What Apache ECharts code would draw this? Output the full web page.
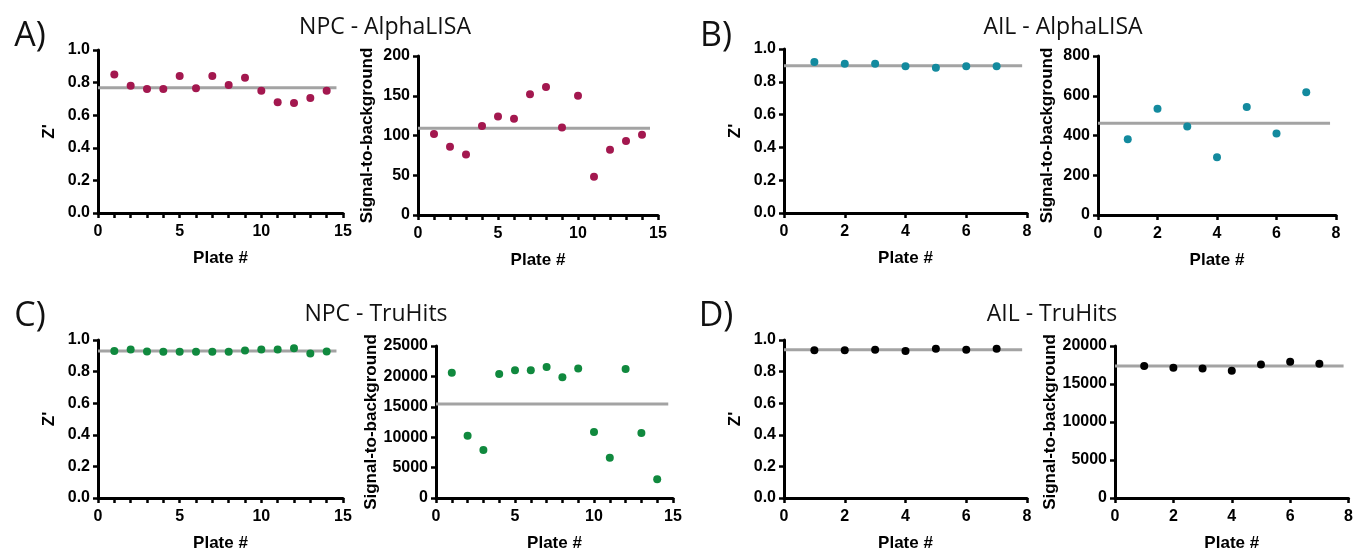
<!DOCTYPE html>
<html>
<head>
<meta charset="utf-8">
<title>Z' and signal-to-background per plate</title>
<script src="https://cdn.jsdelivr.net/npm/echarts@6.0.0/dist/echarts.min.js"></script>
<style>
  html, body { margin: 0; padding: 0; background: #fff; }
  #main { width: 1356px; height: 553px; }
</style>
</head>
<body>
<div id="main"></div>
<script>
// plate numbers
const plates14 = [1, 2, 3, 4, 5, 6, 7, 8, 9, 10, 11, 12, 13, 14];
const plates7 = [1, 2, 3, 4, 5, 6, 7];

// A) NPC - AlphaLISA
const npcAlphaZ = [0.85, 0.78, 0.76, 0.76, 0.84, 0.765, 0.84, 0.785, 0.83, 0.75, 0.68, 0.675, 0.705, 0.75];
const npcAlphaSB = [102, 86, 76, 112, 124, 121, 152, 161, 110, 150, 48, 82, 93, 101];
// B) AIL - AlphaLISA
const ailAlphaZ = [0.92, 0.91, 0.91, 0.895, 0.885, 0.895, 0.895];
const ailAlphaSB = [381, 534, 445, 290, 543, 410, 617];
// C) NPC - TruHits
const npcTruZ = [0.93, 0.94, 0.927, 0.925, 0.925, 0.925, 0.925, 0.925, 0.933, 0.94, 0.94, 0.948, 0.914, 0.927];
const npcTruSB = [20600, 10250, 7900, 20400, 21000, 21000, 21550, 19850, 21300, 10850, 6600, 21200, 10700, 3100];
// D) AIL - TruHits
const ailTruZ = [0.935, 0.935, 0.939, 0.931, 0.945, 0.939, 0.945];
const ailTruSB = [17380, 17130, 17040, 16750, 17580, 17920, 17670];

// mean lines (value, and how far along x they run)
const meanValues = [0.768, 109, 0.898, 462, 0.931, 15470, 0.939, 17375];
const meanEnds = [14.6, 14.5, 7.84, 7.8, 14.6, 14.7, 7.84, 7.83];

// axis settings
const xMaxes = [15, 15, 8, 8, 15, 15, 8, 8];
const xSteps = [5, 5, 2, 2, 5, 5, 2, 2];
const yMaxes = [1, 200, 1, 800, 1, 25000, 1, 20000];
const ySteps = [0.2, 50, 0.2, 200, 0.2, 5000, 0.2, 5000];
const yNames = ["Z'", 'Signal-to-background', "Z'", 'Signal-to-background',
                "Z'", 'Signal-to-background', "Z'", 'Signal-to-background'];

const panelTitles = ['NPC - AlphaLISA', 'AIL - AlphaLISA', 'NPC - TruHits', 'AIL - TruHits'];
const panelLetters = ['A)', 'B)', 'C)', 'D)'];
const colors = ['#a3184f', '#138a9e', '#10893e', '#000000'];

const yData = [npcAlphaZ, npcAlphaSB, ailAlphaZ, ailAlphaSB, npcTruZ, npcTruSB, ailTruZ, ailTruSB];
const xData = [plates14, plates14, plates7, plates7, plates14, plates14, plates7, plates7];

// grid boxes [left, top, width, height]
const boxes = [
  [98, 50, 245, 163], [418, 56, 240, 159], [784, 49, 243, 164], [1098, 56, 238, 159],
  [98, 340, 245, 163], [436, 346, 237, 160], [784, 340, 243, 163], [1115, 346, 238, 160]
];

const fontFam = '"Liberation Sans", Arial, sans-serif';
const titleFam = '"Open Sans", sans-serif';

const grids = [], xAxes = [], yAxes = [], series = [];
boxes.forEach((b, i) => {
  grids.push({ left: b[0], top: b[1], width: b[2], height: b[3] });
  xAxes.push({
    gridIndex: i, type: 'value', min: 0, max: xMaxes[i], interval: xSteps[i],
    name: 'Plate #', nameLocation: 'middle', nameGap: 37,
    nameTextStyle: { fontFamily: fontFam, fontWeight: 'bold', fontSize: 17, color: '#000' },
    axisLine: { lineStyle: { color: '#000', width: 3 } },
    axisTick: { show: true, length: 5, lineStyle: { color: '#000', width: 2.5 } },
    minorTick: { show: xSteps[i] === 5, splitNumber: 5, length: 5, lineStyle: { color: '#000', width: 2.5 } },
    axisLabel: { fontFamily: fontFam, fontWeight: 'bold', fontSize: 16, color: '#000', margin: 11 },
    splitLine: { show: false }
  });
  yAxes.push({
    gridIndex: i, type: 'value', min: 0, max: yMaxes[i], interval: ySteps[i],
    name: yNames[i], nameLocation: 'middle', nameRotate: 90, nameGap: i % 2 ? 42 : 40,
    nameTextStyle: { fontFamily: fontFam, fontWeight: 'bold', fontSize: 17, color: '#000' },
    axisLine: { show: true, lineStyle: { color: '#000', width: 3 } },
    axisTick: { show: true, length: 5, lineStyle: { color: '#000', width: 2.5 } },
    axisLabel: {
      fontFamily: fontFam, fontWeight: 'bold', fontSize: 16, color: '#000', margin: 8,
      formatter: v => (yMaxes[i] === 1 ? v.toFixed(1) : String(v))
    },
    splitLine: { show: false }
  });
  const col = colors[Math.floor(i / 2)];
  series.push({
    type: 'line', xAxisIndex: i, yAxisIndex: i, symbol: 'none', silent: true, z: 1,
    lineStyle: { color: '#a3a3a3', width: 3 },
    data: [[0, meanValues[i]], [meanEnds[i], meanValues[i]]]
  });
  series.push({
    type: 'scatter', xAxisIndex: i, yAxisIndex: i, symbolSize: 8, z: 3,
    itemStyle: { color: col, opacity: 1 },
    data: xData[i].map((x, k) => [x, yData[i][k]])
  });
});

// titles and panel letters
const titlePos = [[385, 27], [1063, 27], [376, 314], [1052, 314]];
const letterPos = [[30, 36], [716, 36], [30, 316], [716, 316]];
const graphics = [];
panelTitles.forEach((t, i) => {
  graphics.push({
    type: 'text', x: titlePos[i][0], y: titlePos[i][1],
    style: { text: t, font: '23px ' + titleFam, fill: '#111', align: 'center', verticalAlign: 'middle' }
  });
  graphics.push({
    type: 'text', x: letterPos[i][0], y: letterPos[i][1],
    style: { text: panelLetters[i], font: '34px ' + titleFam, fill: '#111', align: 'center', verticalAlign: 'middle' }
  });
});

const chart = echarts.init(document.getElementById('main'));
chart.setOption({
  animation: false,
  backgroundColor: '#fff',
  grid: grids,
  xAxis: xAxes,
  yAxis: yAxes,
  series: series,
  graphic: graphics
});
</script>
</body>
</html>
